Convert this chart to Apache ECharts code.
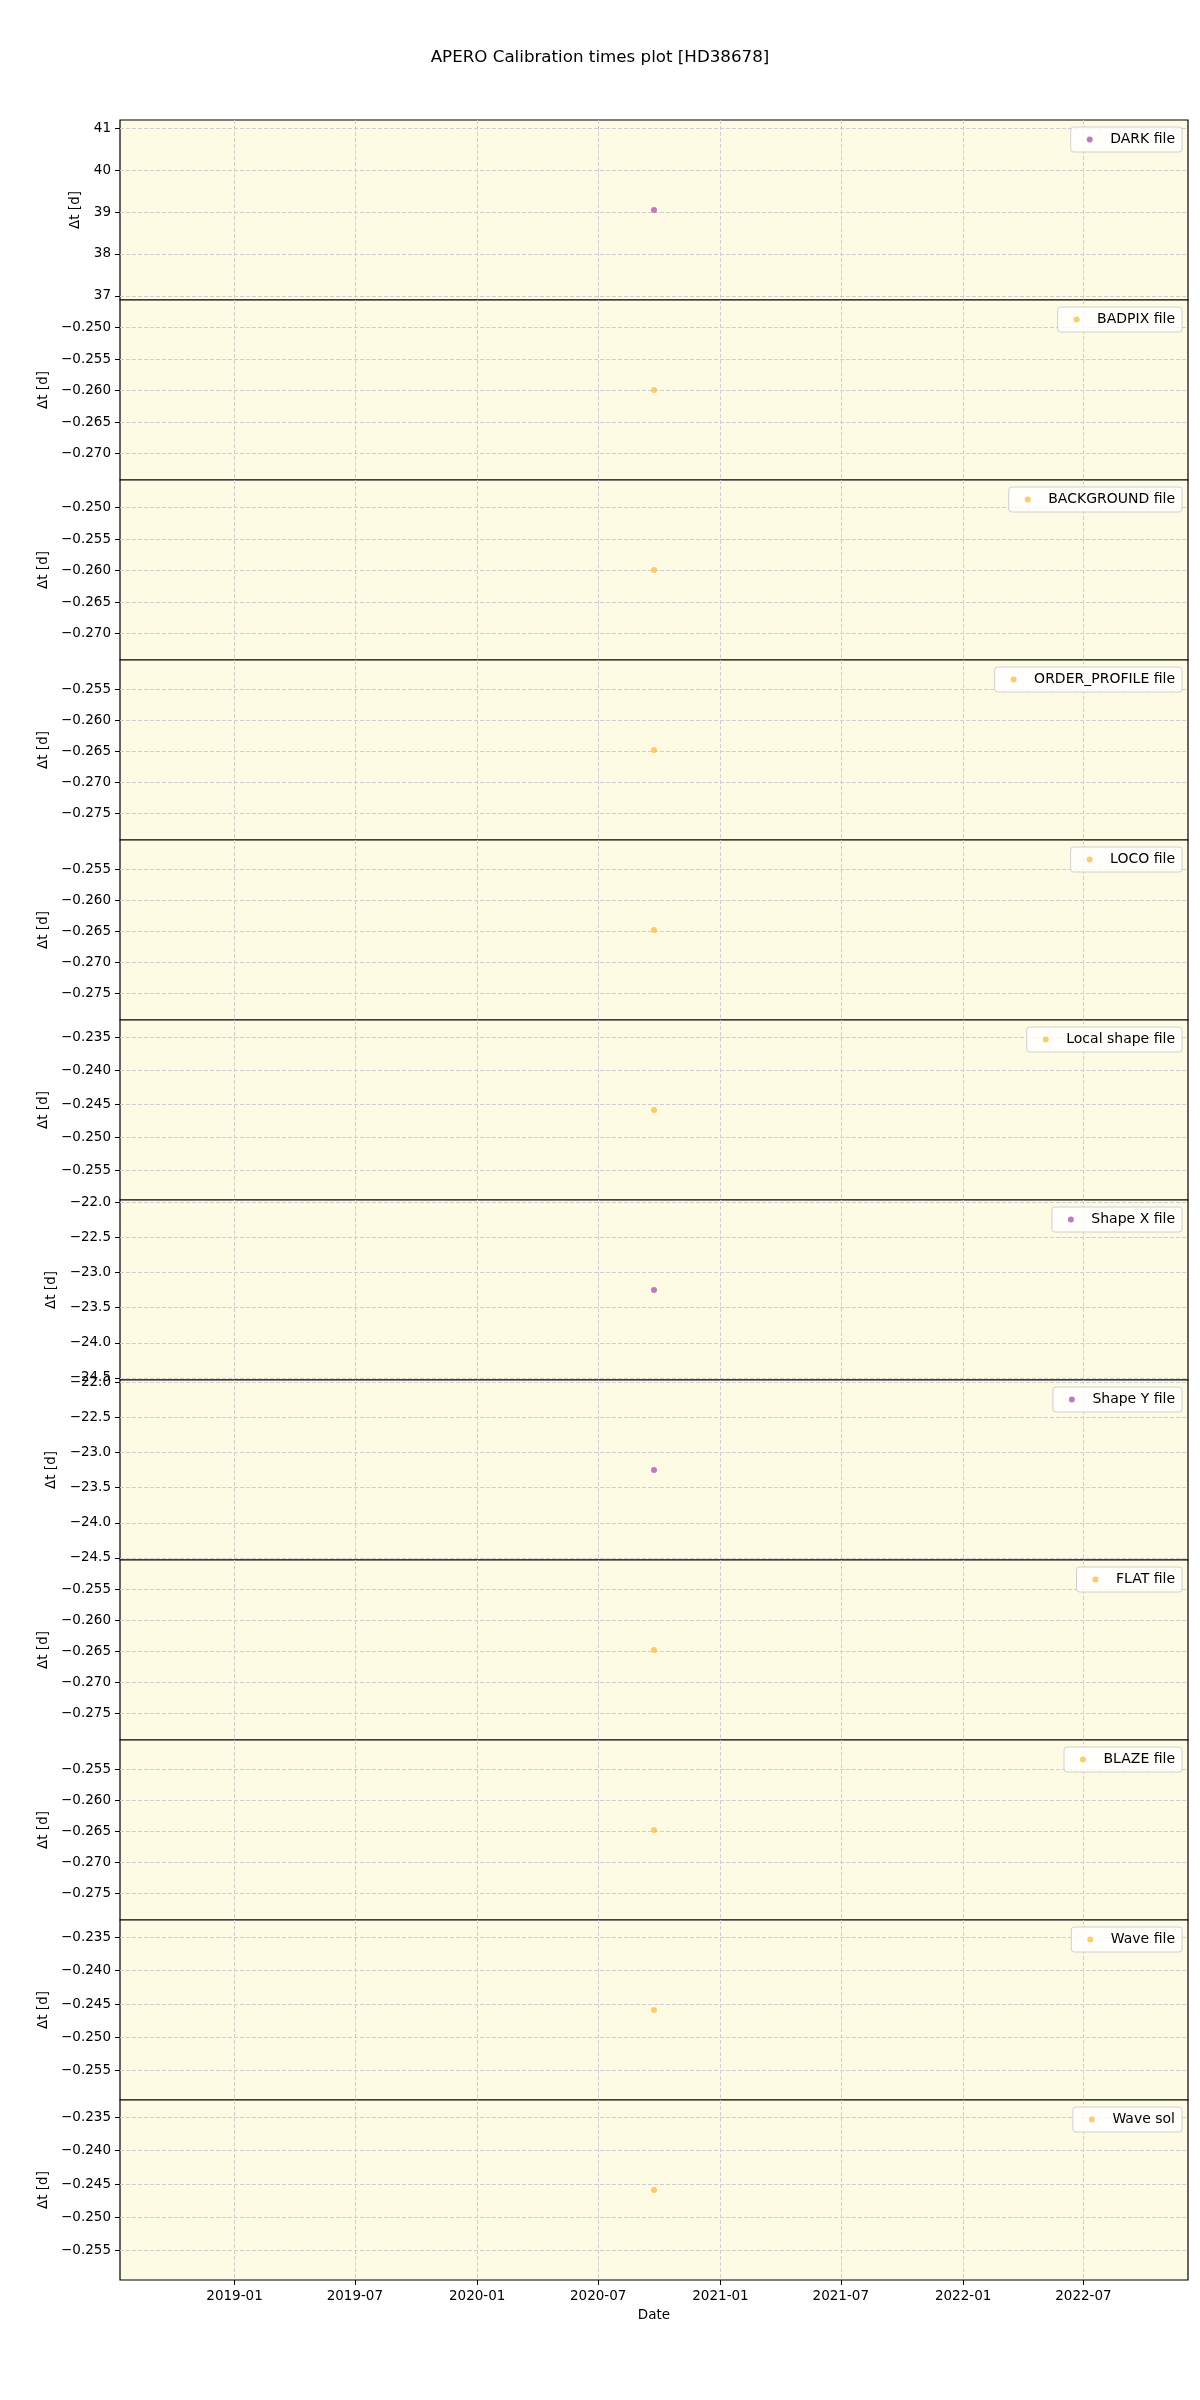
<!DOCTYPE html>
<html lang="en">
<head>
    <meta charset="UTF-8">
    <title>APERO Calibration times plot [HD38678]</title>
    <script src="https://cdn.jsdelivr.net/npm/echarts@6/dist/echarts.min.js"></script>
    <style>
        * { margin: 0; padding: 0; box-sizing: border-box; }
        body { background: #fff; }
        #chart { width: 1200px; height: 2400px; }
    </style>
</head>
<body>
    <div id="chart"></div>
    <script>
        // Calibration file types, one panel each
        const fileTypes = ['DARK file', 'BADPIX file', 'BACKGROUND file', 'ORDER_PROFILE file', 'LOCO file',
            'Local shape file', 'Shape X file', 'Shape Y file', 'FLAT file', 'BLAZE file', 'Wave file', 'Wave sol'];
        // observation date of the single point (same for every panel)
        const obsDates = ['2020-09-23'];
        // delta t [d] per panel
        const deltaT = [39.05, -0.2599, -0.2599, -0.2648, -0.2648, -0.2459,
            -23.25, -23.25, -0.2648, -0.2648, -0.2459, -0.2459];
        // which marker colour each panel uses (p = purple, o = orange)
        const colorKeys = ['p', 'o', 'o', 'o', 'o', 'o', 'p', 'p', 'o', 'o', 'o', 'o'];
        const xTickLabels = ['2019-01', '2019-07', '2020-01', '2020-07', '2021-01', '2021-07', '2022-01', '2022-07'];

        const FONT = "'DejaVu Sans', sans-serif";
        const FS = 13.5;
        const COLORS = { p: '#b05ab0', o: '#fcbf4c' };
        const PANEL_TOP = 120, PANEL_H = 180, LEFT = 120, RIGHT = 12;
        const DAY = 86400000;
        const GRID_LINE = { color: '#cfcfcf', type: [4, 2], width: 1 };

        const xTicks = xTickLabels.map(s => Date.parse(s + '-01T00:00:00Z'));
        const obsT = obsDates.map(s => Date.parse(s + 'T00:00:00Z'));
        // matplotlib style limits for a single point: +-2 years, then 5% margins
        const xMin = obsT[0] - 803.25 * DAY;
        const xMax = obsT[0] + 803.25 * DAY;

        const pad2 = n => (n < 10 ? '0' : '') + n;
        const fmtDate = v => { const d = new Date(v); return d.getUTCFullYear() + '-' + pad2(d.getUTCMonth() + 1); };

        function niceStep(span) {
            const raw = span / 5;
            const exp = Math.floor(Math.log10(raw));
            const f = raw / Math.pow(10, exp);
            const nf = f < 1.5 ? 1 : f < 2.5 ? 2 : f < 4 ? 3 : f < 7 ? 5 : 10;
            return nf * Math.pow(10, exp);
        }

        const ctx = document.createElement('canvas').getContext('2d');
        ctx.font = FS + 'px ' + FONT;

        const grids = [], xAxes = [], yAxes = [], series = [], legends = [];
        const n = fileTypes.length;

        fileTypes.forEach((name, i) => {
            const top = PANEL_TOP + i * PANEL_H;
            const v = deltaT[i];
            const yMin = v - 0.055 * Math.abs(v);
            const yMax = v + 0.055 * Math.abs(v);
            const step = niceStep(yMax - yMin);
            const dec = Math.max(0, -Math.floor(Math.log10(step) + 1e-9));
            const fmtY = val => val.toFixed(dec).replace('-', '\u2212');
            // nice ticks inside the limits, and the widest label for the name gap
            const yTicks = [];
            let w = 0;
            for (let k = Math.ceil(yMin / step); k * step <= yMax; k++) {
                const t = +(k * step).toFixed(dec + 2);
                yTicks.push(t);
                w = Math.max(w, ctx.measureText(fmtY(t)).width);
            }
            const last = i === n - 1;

            grids.push({
                left: LEFT, right: RIGHT, top: top, height: PANEL_H,
                show: true, backgroundColor: '#fdfbe3', borderColor: '#000', borderWidth: 1.2
            });
            xAxes.push({
                type: 'value', gridIndex: i, min: xMin, max: xMax,
                name: last ? 'Date' : '', nameLocation: 'middle', nameGap: 28,
                nameTextStyle: { fontFamily: FONT, fontSize: FS, color: '#000' },
                axisLine: { show: false },
                axisTick: { show: last, customValues: xTicks, length: 5, lineStyle: { color: '#000' } },
                axisLabel: {
                    show: last, customValues: xTicks, margin: 9, formatter: fmtDate,
                    fontFamily: FONT, fontSize: FS, color: '#000', hideOverlap: false
                },
                splitLine: { show: true, lineStyle: GRID_LINE }
            });
            yAxes.push({
                type: 'value', gridIndex: i, min: yMin, max: yMax, scale: true,
                name: '\u0394t [d]', nameLocation: 'middle', nameRotate: 90,
                nameGap: 9 + w + 3,
                nameTextStyle: { fontFamily: FONT, fontSize: FS, color: '#000' },
                axisLine: { show: false },
                axisTick: { show: true, customValues: yTicks, length: 5, lineStyle: { color: '#000' } },
                axisLabel: {
                    customValues: yTicks, margin: 9, formatter: fmtY,
                    fontFamily: FONT, fontSize: FS, color: '#000', hideOverlap: false
                },
                splitLine: { show: true, lineStyle: GRID_LINE }
            });
            series.push({
                name: name, type: 'scatter', xAxisIndex: i, yAxisIndex: i,
                symbol: 'circle', symbolSize: 6,
                itemStyle: { color: COLORS[colorKeys[i]] },
                data: obsT.map(t => [t, v])
            });
            legends.push({
                data: [{ name: name, icon: 'circle' }],
                right: 18, top: top + 7,
                itemWidth: 31, itemHeight: 6, itemGap: 0,
                padding: [5, 7, 5, 16],
                backgroundColor: 'rgba(255,255,255,0.8)',
                borderColor: '#d0d0d0', borderWidth: 1, borderRadius: 3,
                textStyle: { fontFamily: FONT, fontSize: 14, color: '#000', lineHeight: 15 }
            });
        });

        const chart = echarts.init(document.getElementById('chart'), null, { renderer: 'canvas' });
        chart.setOption({
            animation: false,
            title: {
                text: 'APERO Calibration times plot [HD38678]',
                left: 'center', top: 49, padding: 0,
                textStyle: { fontFamily: FONT, fontSize: 16.7, fontWeight: 'normal', color: '#000' }
            },
            grid: grids,
            xAxis: xAxes,
            yAxis: yAxes,
            legend: legends,
            series: series
        });
    </script>
</body>
</html>
